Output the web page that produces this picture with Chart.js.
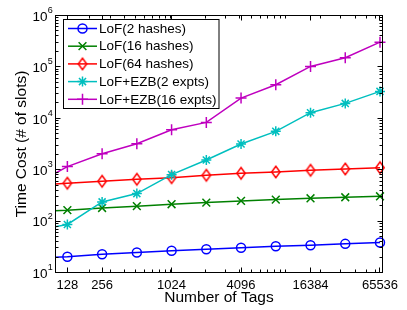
<!DOCTYPE html>
<html>
<head>
<meta charset="utf-8">
<script src="https://cdn.jsdelivr.net/npm/chart.js@4.4.1/dist/chart.umd.min.js"></script>
<style>
html,body{margin:0;padding:0;background:#fff;}
#wrap{width:407px;height:310px;position:relative;}
</style>
</head>
<body>
<div id="wrap"><canvas id="c" width="407" height="310"></canvas></div>
<script>
// ---- data (x = number of tags, y = time cost in slots) ----
const tags = [64, 128, 256, 512, 1024, 2048, 4096, 8192, 16384, 32768, 65536];
const lof2Hashes  = [19, 20.2, 22.7, 24.5, 26.4, 28.4, 30.2, 32.5, 34.0, 36.1, 38.3];
const lof16Hashes = [153, 163, 180, 195, 213, 229, 247, 262, 278, 291, 304];
const lof64Hashes = [497, 545, 596, 651, 701, 778, 851, 903, 973, 1033, 1097];
const ezb2Expts   = [64, 86, 236, 343, 802, 1545, 3162, 5570, 12850, 19500, 33350];
const ezb16Expts  = [490, 1150, 2050, 3206, 6000, 8330, 24770, 45000, 102000, 150300, 303000];
const seriesNames = ['LoF(2 hashes)', 'LoF(16 hashes)', 'LoF(64 hashes)', 'LoF+EZB(2 expts)', 'LoF+EZB(16 expts)'];
const xTickValues = [128, 256, 1024, 4096, 16384, 65536];
const yTickValues = [10, 100, 1000, 10000, 100000, 1000000];
const xTitle = 'Number of Tags';
const yTitle = 'Time Cost (# of slots)';

const FONT = '"Liberation Sans", Arial, Helvetica, sans-serif';

function diamondCanvas(color) {
  const c = document.createElement('canvas');
  c.width = 14; c.height = 16;
  const g = c.getContext('2d');
  g.strokeStyle = color; g.lineWidth = 1.5;
  g.beginPath();
  g.moveTo(7, 2.3); g.lineTo(11.2, 8); g.lineTo(7, 13.7); g.lineTo(2.8, 8); g.closePath();
  g.stroke();
  return c;
}

const styles = [
  {color: '#0000ff', point: 'circle',   radius: 4.5},
  {color: '#008000', point: 'crossRot', radius: 5.5},
  {color: '#ff0000', point: diamondCanvas('#ff0000'), radius: 6},
  {color: '#00bfbf', point: 'star',     radius: 5},
  {color: '#bf00bf', point: 'cross',    radius: 5.5}
];
const series = [lof2Hashes, lof16Hashes, lof64Hashes, ezb2Expts, ezb16Expts];

const datasets = series.map((vals, i) => ({
  label: seriesNames[i],
  data: tags.map((t, j) => ({x: t, y: vals[j]})),
  borderColor: styles[i].color,
  backgroundColor: 'rgba(0,0,0,0)',
  borderWidth: 1.5,
  pointStyle: styles[i].point,
  pointRadius: styles[i].radius,
  pointBorderWidth: 1.5,
  pointBorderColor: styles[i].color,
  pointBackgroundColor: 'rgba(0,0,0,0)',
  tension: 0,
  fill: false,
  order: series.length - i,
  clip: {left: 0, right: false, top: false, bottom: false}
}));

function manualPoint(ctx, style, r, x, y) {
  if (typeof style !== 'string') { ctx.drawImage(style, x - style.width / 2, y - style.height / 2); return; }
  ctx.beginPath();
  if (style === 'circle') { ctx.arc(x, y, r, 0, Math.PI * 2); }
  else if (style === 'cross') { ctx.moveTo(x - r, y); ctx.lineTo(x + r, y); ctx.moveTo(x, y - r); ctx.lineTo(x, y + r); }
  else if (style === 'crossRot' || style === 'star') {
    const d = r * Math.SQRT1_2;
    ctx.moveTo(x - d, y - d); ctx.lineTo(x + d, y + d); ctx.moveTo(x - d, y + d); ctx.lineTo(x + d, y - d);
    if (style === 'star') { ctx.moveTo(x - r, y); ctx.lineTo(x + r, y); ctx.moveTo(x, y - r); ctx.lineTo(x, y + r); }
  }
  ctx.stroke();
}

const decorPlugin = {
  id: 'decor',
  afterDatasetsDraw(chart) {
    const {ctx, chartArea: a, scales} = chart;
    const xs = scales.x, ys = scales.y;
    ctx.save();
    ctx.strokeStyle = '#000';
    ctx.lineWidth = 1;
    // frame
    ctx.strokeRect(Math.floor(a.left) + 0.5, Math.floor(a.top) + 0.5,
      Math.floor(a.right) - Math.floor(a.left), Math.floor(a.bottom) - Math.floor(a.top));
    const L = Math.floor(a.left) + 0.5, R = Math.floor(a.right) + 0.5;
    const T = Math.floor(a.top) + 0.5, B = Math.floor(a.bottom) + 0.5;
    ctx.beginPath();
    const major = 5, minor = 3;
    // x ticks
    const xMinor = [];
    for (let k = 2; k <= 4; k++) for (let d = 1; d <= 9; d++) {
      const v = d * Math.pow(10, k);
      if (v > xs.min && v < xs.max) xMinor.push(v);
    }
    xMinor.forEach(v => {
      const p = Math.floor(xs.getPixelForValue(v)) + 0.5;
      ctx.moveTo(p, B); ctx.lineTo(p, B - minor);
      ctx.moveTo(p, T); ctx.lineTo(p, T + minor);
    });
    xTickValues.forEach(v => {
      const p = Math.floor(xs.getPixelForValue(v)) + 0.5;
      ctx.moveTo(p, B); ctx.lineTo(p, B - major);
      ctx.moveTo(p, T); ctx.lineTo(p, T + major);
    });
    // y ticks
    for (let k = 1; k <= 5; k++) for (let d = 2; d <= 9; d++) {
      const v = d * Math.pow(10, k);
      const p = Math.floor(ys.getPixelForValue(v)) + 0.5;
      ctx.moveTo(L, p); ctx.lineTo(L + minor, p);
      ctx.moveTo(R, p); ctx.lineTo(R - minor, p);
    }
    yTickValues.forEach(v => {
      const p = Math.floor(ys.getPixelForValue(v)) + 0.5;
      ctx.moveTo(L, p); ctx.lineTo(L + major, p);
      ctx.moveTo(R, p); ctx.lineTo(R - major, p);
    });
    ctx.stroke();

    // y tick labels 10^k
    ctx.fillStyle = '#000';
    yTickValues.forEach(v => {
      const p = ys.getPixelForValue(v);
      const e = String(Math.round(Math.log10(v)));
      ctx.font = '13.5px ' + FONT;
      ctx.textAlign = 'right';
      ctx.textBaseline = 'middle';
      ctx.fillText('10', 47.5, p + 1.5);
      ctx.font = '9px ' + FONT;
      ctx.textAlign = 'left';
      ctx.fillText(e, 47.8, p - 5);
    });

    // y title
    ctx.save();
    ctx.translate(22, (a.top + a.bottom) / 2);
    ctx.rotate(-Math.PI / 2);
    ctx.font = '15.5px ' + FONT;
    ctx.textAlign = 'center';
    ctx.textBaseline = 'middle';
    ctx.fillText(yTitle, 0, 0);
    ctx.restore();

    // legend
    const bx = 63.5, by = 19.5, bw = 155.5, bh = 89;
    ctx.fillStyle = '#fff';
    ctx.fillRect(bx, by, bw, bh);
    ctx.strokeStyle = '#000';
    ctx.lineWidth = 1;
    ctx.strokeRect(bx, by, bw, bh);
    const dp = Chart.helpers && Chart.helpers.drawPoint;
    seriesNames.forEach((name, i) => {
      const yy = 28.5 + 17.7 * i;
      const st = styles[i];
      ctx.strokeStyle = st.color;
      ctx.lineWidth = 1.5;
      ctx.beginPath(); ctx.moveTo(68, yy); ctx.lineTo(97, yy); ctx.stroke();
      ctx.fillStyle = 'rgba(0,0,0,0)';
      if (dp) dp(ctx, {pointStyle: st.point, rotation: 0, radius: st.radius, borderWidth: 1.5}, 82.5, yy);
      else manualPoint(ctx, st.point, st.radius, 82.5, yy);
      ctx.fillStyle = '#000';
      ctx.font = '13.5px ' + FONT;
      ctx.textAlign = 'left';
      ctx.textBaseline = 'middle';
      ctx.fillText(name, 99, yy + 0.5);
    });
    ctx.restore();
  }
};

new Chart(document.getElementById('c'), {
  type: 'line',
  data: {datasets},
  options: {
    responsive: false,
    animation: false,
    devicePixelRatio: 1,
    layout: {padding: {left: 0, right: 24.5, top: 15.5, bottom: 0}},
    plugins: {legend: {display: false}, tooltip: {enabled: false}, title: {display: false}},
    scales: {
      x: {
        type: 'logarithmic',
        position: 'bottom',
        min: 101, max: 68900,
        grid: {display: false, drawTicks: false},
        border: {display: false},
        afterBuildTicks: s => { s.ticks = xTickValues.map(v => ({value: v})); },
        afterFit: s => { s.height = 37.5; },
        ticks: {
          autoSkip: false, maxRotation: 0, minRotation: 0, padding: 5,
          color: '#000', font: {family: FONT, size: 13},
          callback: v => String(v)
        },
        title: {display: true, text: xTitle, color: '#000', font: {family: FONT, size: 15.5}, padding: {top: 0, bottom: 3}}
      },
      y: {
        type: 'logarithmic',
        position: 'left',
        min: 10, max: 1000000,
        grid: {display: false, drawTicks: false},
        border: {display: false},
        afterBuildTicks: s => { s.ticks = yTickValues.map(v => ({value: v})); },
        afterFit: s => { s.width = 55.5; },
        ticks: {display: false},
        title: {display: false}
      }
    }
  },
  plugins: [decorPlugin]
});
</script>
</body>
</html>
